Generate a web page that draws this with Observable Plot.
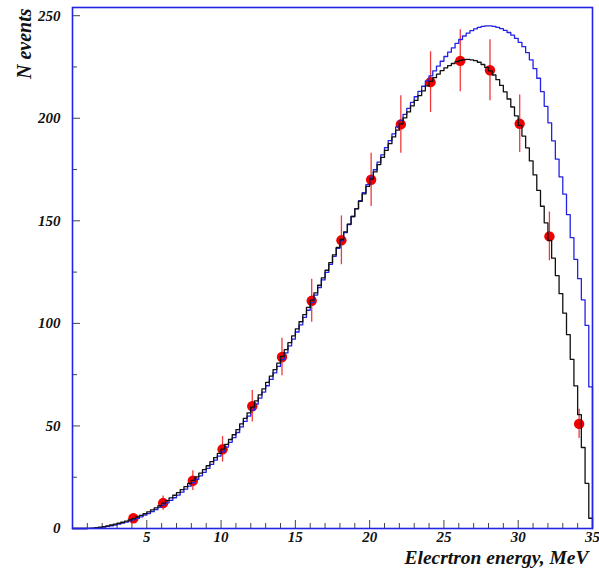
<!DOCTYPE html>
<html><head><meta charset="utf-8">
<script src="https://cdn.jsdelivr.net/npm/d3@7"></script>
<script src="https://cdn.jsdelivr.net/npm/@observablehq/plot@0.6"></script>
<style>body{margin:0;background:#fff}</style>
</head><body><div id="chart"></div>
<script>
// Histogram binning (MeV)
const binLow = 0;
const binWidth = 0.25;

// Black histogram (with corrections), 140 bins of 0.25 MeV from 0 to 35
const blackCounts = [
  0,0,0,0,
  0.1,0.2,0.4,0.65,
  0.95,1.3,1.7,2.1,
  2.55,3.05,3.6,4.2,
  4.85,5.6,6.4,7.2,
  8.1,9.1,10.1,11.2,
  12.4,13.6,14.9,16.2,
  17.5,19.0,20.4,22.0,
  23.5,25.2,27.0,28.7,
  30.6,32.6,34.6,36.6,
  38.7,41.0,43.4,45.7,
  48.2,51.0,53.7,56.4,
  59.2,62.2,65.1,68.1,
  71.2,74.3,77.5,80.6,
  83.9,87.2,90.6,93.9,
  97.3,100.8,104.3,107.8,
  111.3,114.9,118.6,122.2,
  125.9,129.6,133.4,137.1,
  140.9,144.6,148.4,152.1,
  155.8,159.5,163.1,166.8,
  170.4,173.9,177.4,180.9,
  184.3,187.6,190.9,194.2,
  197.3,200.2,203.1,206.0,
  208.7,211.0,213.4,215.8,
  218.0,219.8,221.5,223.2,
  224.6,225.7,226.7,227.6,
  228.2,228.6,228.7,228.5,
  228.1,227.3,226.2,224.8,
  223.1,221.1,218.8,216.0,
  212.9,209.4,205.5,201.2,
  196.5,191.3,185.6,179.2,
  172.4,164.8,157.1,149.0,
  140.5,131.8,123.3,114.5,
  105.0,94.5,82.5,69.5,
  55.5,39.5,22.0,5.0
];

// Blue histogram, 140 bins of 0.25 MeV from 0 to 35
const blueCounts = [
  0,0,0,0,
  0.02,0.1,0.25,0.45,
  0.7,1.0,1.35,1.7,
  2.1,2.6,3.1,3.7,
  4.3,5.0,5.7,6.5,
  7.3,8.2,9.2,10.3,
  11.4,12.5,13.7,15.0,
  16.3,17.7,19.2,20.7,
  22.3,24.0,25.7,27.4,
  29.3,31.3,33.3,35.3,
  37.4,39.7,42.0,44.3,
  46.8,49.5,52.2,54.8,
  57.7,60.6,63.6,66.5,
  69.6,72.7,75.9,79.0,
  82.3,85.6,89.0,92.3,
  95.8,99.3,102.9,106.4,
  110.1,113.8,117.5,121.2,
  124.9,128.8,132.7,136.6,
  140.4,144.3,148.2,152.1,
  155.9,159.8,163.7,167.6,
  171.3,174.9,178.6,182.2,
  185.7,189.1,192.4,195.8,
  199.0,201.9,204.8,207.7,
  210.5,213.1,215.6,218.2,
  220.7,223.1,225.4,227.8,
  230.1,232.2,234.3,236.5,
  238.4,240.1,241.5,242.7,
  243.6,244.3,244.8,245.0,
  245.0,244.8,244.3,243.7,
  242.8,241.8,240.5,238.9,
  237.0,234.9,232.0,228.5,
  224.2,219.5,213.0,205.8,
  197.8,189.0,180.1,171.4,
  163.0,153.0,141.8,131.2,
  121.8,111.5,99.0,69.0
];

// Measured points
const dataEnergy = [4.1,6.1,8.1,10.1,12.1,14.1,16.1,18.1,20.1,22.1,24.1,26.1,28.1,30.1,32.1,34.1];
const dataEvents = [5.0,12.4,23.3,38.6,59.6,83.6,111,140.5,170,197,217.6,228,223.4,197.3,142.4,51];
const dataErrors = [2.2,3.5,4.8,6.2,7.7,9.1,10.5,11.9,13.0,14.0,14.8,15.1,14.9,14.0,11.9,7.1];

// Axes
const xMajorTicks = [5,10,15,20,25,30];
const xMinorTicks = [1,2,3,4,6,7,8,9,11,12,13,14,16,17,18,19,21,22,23,24,26,27,28,29,31,32,33,34];
const xTickLabels = [5,10,15,20,25,30,35];
const yMajorTicks = [50,100,150,200,250];
const yMinorTicks = [25,75,125,175,225];
const yTickLabels = [0,50,100,150,200,250];
const xTitle = "Elecrtron energy, MeV";
const yTitle = "N events";

// Layout
const W = 599, H = 576;
const mL = 72, mR = 7, mT = 7, mB = 48;
const plotW = W - mL - mR, plotH = H - mT - mB;
const blue = "#2323e6";
const font = "Liberation Serif";

function histPoints(vals) {
  const pts = vals.map((v, i) => ({e: binLow + i * binWidth, v}));
  const end = binLow + vals.length * binWidth;
  pts.push({e: end, v: vals[vals.length - 1]});
  pts.push({e: end, v: 0});
  return pts;
}
const points = dataEnergy.map((e, i) => ({e, v: dataEvents[i], err: dataErrors[i]}));

const textStyle = {fontFamily: font, fontWeight: "bold", fontStyle: "italic", fill: "#111"};

const chart = Plot.plot({
  width: W, height: H,
  marginLeft: mL, marginRight: mR, marginTop: mT, marginBottom: mB,
  style: {background: "white", fontFamily: font},
  x: {domain: [0, 35], axis: null},
  y: {domain: [0, 254], axis: null},
  marks: [
    // inward ticks
    Plot.ruleX(xMajorTicks, {x: d => d, insetTop: plotH - 8, stroke: "#444", strokeWidth: 1}),
    Plot.ruleX(xMinorTicks, {x: d => d, insetTop: plotH - 5, stroke: "#444", strokeWidth: 1}),
    Plot.ruleY(yMajorTicks, {y: d => d, insetRight: plotW - 8, stroke: "#444", strokeWidth: 1}),
    Plot.ruleY(yMinorTicks, {y: d => d, insetRight: plotW - 5, stroke: "#444", strokeWidth: 1}),
    // error bars and points
    Plot.ruleX(points, {x: "e", y1: d => d.v - d.err, y2: d => d.v + d.err, stroke: "#f03a3a", strokeWidth: 1.3}),
    Plot.dot(points, {x: "e", y: "v", r: 5.2, fill: "#f00000", stroke: "none"}),
    // histograms
    Plot.line(histPoints(blueCounts), {x: "e", y: "v", curve: "step-after", stroke: blue, strokeWidth: 1.3}),
    Plot.line(histPoints(blackCounts), {x: "e", y: "v", curve: "step-after", stroke: "#111", strokeWidth: 1.3}),
    // frame
    Plot.frame({stroke: blue, strokeWidth: 1.6}),
    // tick labels
    Plot.text(xTickLabels, {x: d => d, frameAnchor: "bottom", dy: 13, text: d => String(d), fontSize: 15, ...textStyle}),
    Plot.text(yTickLabels, {y: d => d, frameAnchor: "left", dx: -12, textAnchor: "end", text: d => String(d), fontSize: 15, ...textStyle}),
    // titles
    Plot.text([xTitle], {frameAnchor: "bottom-right", dx: -4, dy: 35, textAnchor: "end", text: d => d, fontSize: 19.5, ...textStyle}),
    Plot.text([yTitle], {frameAnchor: "top-left", dx: -56, dy: 1, rotate: -90, textAnchor: "end", text: d => d, fontSize: 20, ...textStyle})
  ]
});
document.getElementById("chart").appendChild(chart);
</script>
</body></html>
